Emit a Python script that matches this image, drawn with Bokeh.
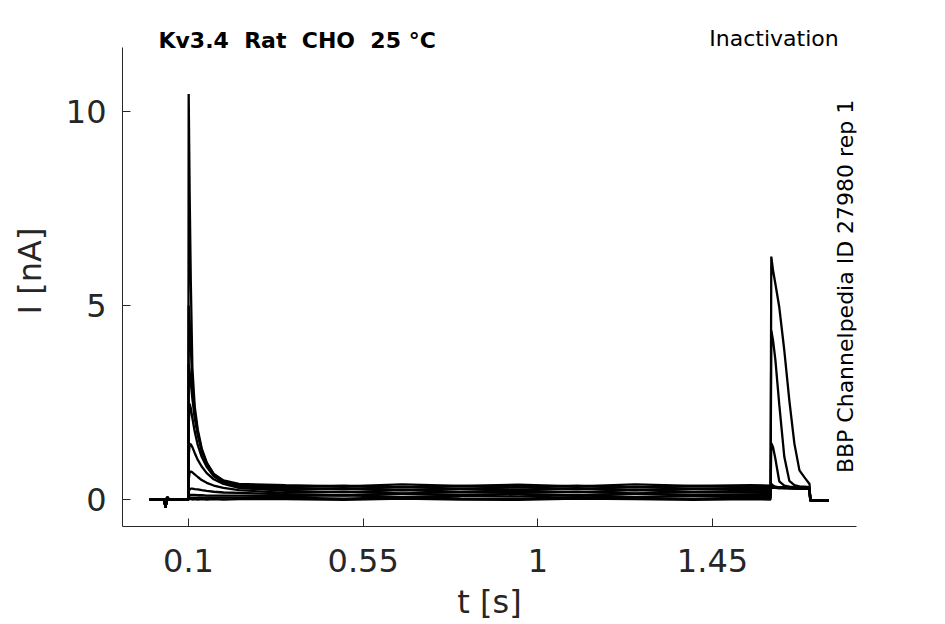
import math
from bokeh.plotting import figure
from bokeh.models import Range1d, FixedTicker, Label, CustomJSTickFormatter
from bokeh.embed import file_html
from bokeh.resources import INLINE

# shared time grid [s]
t_grid = [0.000, 0.037, 0.041, 0.045, 0.050, 0.0995,
          0.1005, 0.103, 0.106, 0.110, 0.116, 0.124, 0.134, 0.147, 0.165, 0.190, 0.230,
          0.350, 0.500, 0.650, 0.800, 0.950, 1.100, 1.250, 1.400, 1.550, 1.5995,
          1.6015, 1.606, 1.612, 1.622, 1.635, 1.648, 1.661, 1.674, 1.687, 1.700,
          1.702, 1.750]

# current segments [nA]
pre_hold = [0.0, 0.0, -0.2, 0.06, 0.0, 0.0]
post_hold = [-0.03, -0.03]

# conditioning pulse (t = 0.1005 ... 0.230)
cond_peak = [
    [0.0, 0.01, 0.01, 0.0, 0.01, 0.0, 0.01, 0.0, 0.01, 0.0, 0.01],
    [0.03, 0.04, 0.05, 0.05, 0.05, 0.05, 0.05, 0.05, 0.05, 0.05, 0.05],
    [0.08, 0.11, 0.12, 0.12, 0.12, 0.11, 0.11, 0.10, 0.10, 0.10, 0.10],
    [0.20, 0.26, 0.28, 0.28, 0.27, 0.26, 0.24, 0.22, 0.20, 0.18, 0.17],
    [0.50, 0.70, 0.72, 0.70, 0.65, 0.58, 0.50, 0.43, 0.36, 0.30, 0.24],
    [1.10, 1.43, 1.42, 1.35, 1.20, 1.02, 0.85, 0.68, 0.52, 0.40, 0.30],
    [1.90, 2.47, 2.35, 2.10, 1.75, 1.40, 1.10, 0.84, 0.60, 0.44, 0.33],
    [3.50, 3.30, 3.00, 2.60, 2.10, 1.65, 1.25, 0.92, 0.64, 0.46, 0.36],
    [5.00, 4.60, 3.90, 3.00, 2.25, 1.72, 1.28, 0.94, 0.65, 0.48, 0.38],
    [10.45, 7.90, 5.60, 3.40, 2.40, 1.80, 1.32, 0.95, 0.66, 0.49, 0.40],
]

# conditioning steady state (t = 0.35 ... 1.5995)
cond_steady = [
    [0.01, -0.01, 0.02, 0.00, -0.01, 0.02, 0.01, -0.01, 0.01, 0.00],
    [0.05, 0.02, 0.06, 0.03, 0.02, 0.06, 0.04, 0.02, 0.05, 0.04],
    [0.09, 0.11, 0.07, 0.10, 0.08, 0.11, 0.07, 0.10, 0.09, 0.09],
    [0.13, 0.11, 0.15, 0.12, 0.14, 0.11, 0.15, 0.12, 0.13, 0.13],
    [0.17, 0.20, 0.16, 0.19, 0.17, 0.20, 0.16, 0.19, 0.18, 0.17],
    [0.22, 0.19, 0.24, 0.20, 0.23, 0.19, 0.24, 0.20, 0.22, 0.22],
    [0.26, 0.29, 0.24, 0.28, 0.25, 0.29, 0.24, 0.28, 0.26, 0.26],
    [0.30, 0.27, 0.32, 0.28, 0.31, 0.27, 0.32, 0.28, 0.30, 0.30],
    [0.33, 0.36, 0.31, 0.35, 0.32, 0.36, 0.31, 0.35, 0.33, 0.33],
    [0.37, 0.34, 0.39, 0.35, 0.38, 0.34, 0.39, 0.35, 0.37, 0.36],
]

# test pulse (t = 1.6015 ... 1.700)
test_pulse = [
    [6.26, 5.90, 5.56, 4.96, 3.84, 2.55, 1.44, 0.75, 0.57, 0.40],
    [4.36, 4.10, 3.60, 2.45, 1.10, 0.48, 0.37, 0.34, 0.33, 0.32],
    [1.45, 1.35, 1.05, 0.47, 0.36, 0.33, 0.32, 0.32, 0.31, 0.31],
    [0.40, 0.36, 0.33, 0.31, 0.31, 0.30, 0.30, 0.30, 0.29, 0.29],
    [0.33, 0.31, 0.30, 0.29, 0.30, 0.29, 0.28, 0.29, 0.28, 0.28],
    [0.32, 0.30, 0.31, 0.30, 0.29, 0.30, 0.29, 0.28, 0.29, 0.28],
    [0.31, 0.32, 0.30, 0.31, 0.30, 0.29, 0.30, 0.29, 0.28, 0.29],
    [0.30, 0.31, 0.32, 0.30, 0.31, 0.30, 0.29, 0.30, 0.29, 0.28],
    [0.31, 0.30, 0.31, 0.32, 0.30, 0.31, 0.30, 0.29, 0.30, 0.29],
    [0.32, 0.31, 0.30, 0.31, 0.32, 0.30, 0.31, 0.30, 0.29, 0.30],
]

x_ticks = [0.1, 0.55, 1, 1.45]
x_tick_labels = ["0.1", "0.55", "1", "1.45"]
y_ticks = [0, 5, 10]
y_tick_labels = ["0", "5", "10"]

NB = "\u00a0 "   # a wide (double) space that SVG will not collapse
title_left = "Kv3.4" + NB + "Rat" + NB + "CHO" + NB + "25 °C"
title_right = "Inactivation"
side_text = "BBP Channelpedia ID 27980 rep 1"

FONT = "DejaVu Sans"
GREY = "#262626"

X0, X1 = -0.070, 1.821     # x range
Y0, Y1 = -0.696, 11.65     # drawn extent of the y axis

p = figure(width=937, height=623, output_backend="svg", toolbar_location=None,
           x_range=Range1d(X0, X1), y_range=Range1d(Y0, 12.474),
           min_border_left=122, min_border_right=81, min_border_top=15,
           min_border_bottom=97)
p.outline_line_color = None
p.grid.visible = False
p.background_fill_color = "white"
p.border_fill_color = "white"

for k in range(len(cond_peak)):
    ys = pre_hold + cond_peak[k] + cond_steady[k] + test_pulse[k] + post_hold
    p.line(t_grid, ys, line_color="black", line_width=2.3)

p.xaxis.ticker = FixedTicker(ticks=x_ticks)
p.yaxis.ticker = FixedTicker(ticks=y_ticks)
fmt_code = "const i = tvals.indexOf(tick); return i >= 0 ? tlabels[i] : '';"
p.xaxis.formatter = CustomJSTickFormatter(args=dict(tvals=x_ticks, tlabels=x_tick_labels), code=fmt_code)
p.yaxis.formatter = CustomJSTickFormatter(args=dict(tvals=y_ticks, tlabels=y_tick_labels), code=fmt_code)
p.xaxis.axis_label = "t [s]"
p.yaxis.axis_label = "I [nA]"
p.yaxis.bounds = (Y0, Y1)

for ax in (p.xaxis[0], p.yaxis[0]):
    ax.major_tick_in = 8
    ax.major_tick_out = 0
    ax.minor_tick_line_color = None
    ax.axis_line_color = GREY
    ax.major_tick_line_color = GREY
    ax.major_label_text_font = FONT
    ax.major_label_text_font_size = "32px"
    ax.major_label_text_color = GREY
    ax.axis_label_text_font = FONT
    ax.axis_label_text_font_size = "32px"
    ax.axis_label_text_font_style = "normal"
    ax.axis_label_text_color = GREY

p.xaxis.major_label_standoff = 22
p.xaxis.axis_label_standoff = 8
p.yaxis.major_label_standoff = 16
p.yaxis.axis_label_standoff = 14

p.add_layout(Label(x=0.0227, y=11.83, text=title_left, text_font=FONT,
                   text_font_style="bold", text_font_size="22px",
                   text_baseline="middle", text_color="black"))
p.add_layout(Label(x=1.775, y=11.88, text=title_right, text_font=FONT,
                   text_font_size="22px", text_align="right",
                   text_baseline="middle", text_color="black"))
p.add_layout(Label(x=1.792, y=5.49, text=side_text, text_font=FONT,
                   text_font_size="22px", angle=math.pi / 2,
                   text_align="center", text_baseline="middle", text_color="black"))

open("out.html", "w").write(file_html(p, INLINE))
